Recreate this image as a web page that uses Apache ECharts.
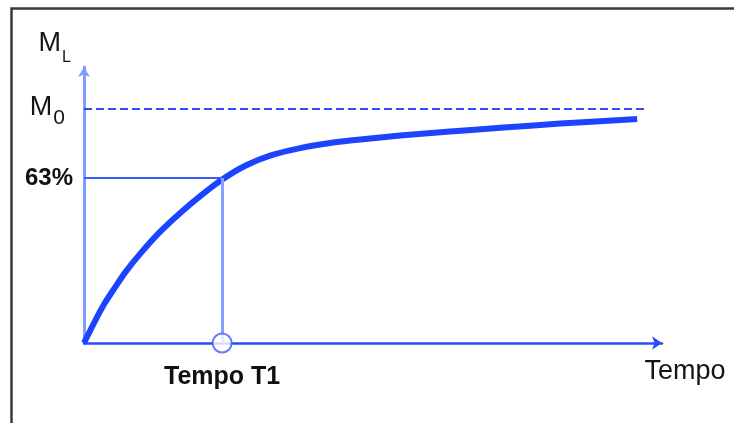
<!DOCTYPE html>
<html><head><meta charset="utf-8">
<script src="https://cdn.jsdelivr.net/npm/echarts@6/dist/echarts.min.js"></script>
<style>html,body{margin:0;padding:0;background:#fff}#c{width:734px;height:423px}</style>
</head><body><div id="c"></div>
<script>
// ---- data ----
const curveX = [0, 1.9, 3.6, 5.4, 7.1, 9.7, 13.1, 16.6, 20.1, 23.9, 27.9, 32.2, 37.4, 42.6, 47.8, 54.7, 63.3, 72.0, 82.4, 95.7];
const curveY = [0, 9.4, 17.1, 23.9, 30.1, 38.1, 47.4, 55.5, 62.8, 69.9, 75.8, 80.1, 83.3, 85.5, 87.0, 88.7, 90.4, 92.0, 93.8, 95.8];
const m0Value = 100;      // asymptote level M0
const m0LineEnd = 97.1;   // x where dashed M0 line stops
const level63 = 70.5;     // "63%" level (as drawn)
const t1 = 23.9;          // time T1
const yAxisName = ['M', 'L'];
const m0Label = ['M', '0'];
const pctLabel = '63%';
const t1Label = 'Tempo T1';
const xAxisName = 'Tempo';

const FONT = 'Liberation Sans, Arial, sans-serif';
const curveData = curveX.map((x, i) => [x, curveY[i]]);

const chart = echarts.init(document.getElementById('c'), null, {renderer: 'canvas'});
chart.setOption({
  animation: false,
  backgroundColor: '#fff',
  grid: {left: 84, right: 72, top: 67, bottom: 80},
  graphic: [{
    type: 'rect', z: 100, silent: true,
    shape: {x: 11.5, y: 8.5, width: 1000, height: 1000},
    style: {fill: 'none', stroke: '#3a3a3a', lineWidth: 2.5}
  }],
  xAxis: {
    type: 'value', min: 0, max: 100,
    axisLine: {show: true, onZero: false, symbol: ['none', 'arrow'], symbolSize: [10, 10],
      lineStyle: {color: '#2a4bff', width: 2.5}},
    axisTick: {show: false}, axisLabel: {show: false}, splitLine: {show: false},
    name: xAxisName, nameLocation: 'end', nameGap: 23,
    nameTextStyle: {fontFamily: FONT, fontSize: 27, color: '#151515', align: 'center',
      verticalAlign: 'top', padding: [15, 0, 0, 0]}
  },
  yAxis: {
    type: 'value', min: 0, max: 118,
    axisLine: {show: true, onZero: false, symbol: ['none', 'arrow'], symbolSize: [9, 10],
      lineStyle: {color: '#809bff', width: 3}},
    axisTick: {show: false}, axisLabel: {show: false}, splitLine: {show: false},
    name: '{m|' + yAxisName[0] + '}{s|' + yAxisName[1] + '}',
    nameLocation: 'end', nameGap: 7,
    nameTextStyle: {fontFamily: FONT, color: '#151515', align: 'right', verticalAlign: 'bottom',
      padding: [0, 13, 0, 0],
      rich: {
        m: {fontFamily: FONT, fontSize: 27, color: '#151515', lineHeight: 30, verticalAlign: 'top'},
        s: {fontFamily: FONT, fontSize: 16, color: '#151515', lineHeight: 16, verticalAlign: 'top', padding: [20, 0, 0, 1]}
      }}
  },
  series: [
    {
      type: 'line', data: [], z: 1, silent: true,
      markLine: {
        silent: true, symbol: ['none', 'none'], animation: false,
        data: [
          [{coord: [0, m0Value], lineStyle: {color: '#2a4bff', width: 2, type: [8, 4]},
            label: {show: true, position: 'start', distance: 19,
              formatter: '{m|' + m0Label[0] + '}{s|' + m0Label[1] + '}',
              rich: {
                m: {fontFamily: FONT, fontSize: 27, color: '#151515', lineHeight: 30, verticalAlign: 'top'},
                s: {fontFamily: FONT, fontSize: 21, color: '#151515', lineHeight: 21, verticalAlign: 'top', padding: [14, 0, 0, 1]}
              }}},
           {coord: [m0LineEnd, m0Value]}],
          [{coord: [0, level63], lineStyle: {color: '#3b5cff', width: 2, type: 'solid'},
            label: {show: true, position: 'start', distance: 11, formatter: pctLabel,
              fontFamily: FONT, fontSize: 24, fontWeight: 'bold', color: '#111'}},
           {coord: [t1, level63]}],
          [{coord: [t1, level63], lineStyle: {color: '#86a0ff', width: 3, type: 'solid'},
            label: {show: true, position: 'end', distance: 22, formatter: t1Label,
              fontFamily: FONT, fontSize: 25, fontWeight: 'bold', color: '#111'}},
           {coord: [t1, 0]}]
        ]
      }
    },
    {
      type: 'line', data: curveData, z: 3, smooth: 0.25, showSymbol: false, silent: true,
      lineStyle: {color: '#1c44ff', width: 6, cap: 'butt'}
    },
    {
      type: 'scatter', data: [[t1, 0]], z: 5, symbol: 'circle', symbolSize: 19, silent: true,
      clip: false,
      itemStyle: {color: '#fff', borderColor: '#3b5cff', borderWidth: 2}
    }
  ]
});
</script>
</body></html>
